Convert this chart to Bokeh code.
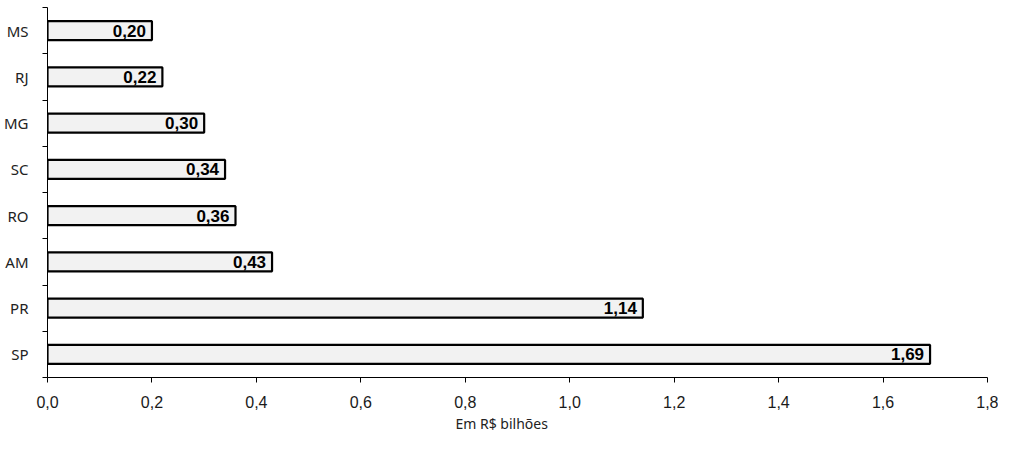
from bokeh.plotting import figure
from bokeh.models import Range1d, FixedTicker, CustomJSTickFormatter, ColumnDataSource, Title
from bokeh.core.properties import value
from bokeh.embed import file_html
from bokeh.resources import INLINE

# Data (top to bottom as shown)
categories = ["MS", "RJ", "MG", "SC", "RO", "AM", "PR", "SP"]
values = [0.20, 0.22, 0.30, 0.34, 0.36, 0.43, 1.14, 1.69]
x_ticks = [0.0, 0.2, 0.4, 0.6, 0.8, 1.0, 1.2, 1.4, 1.6, 1.8]
x_title = "Em R$ bilhões"

n = len(categories)
ypos = [n - 0.5 - i for i in range(n)]
labels = [f"{v:.2f}".replace(".", ",") for v in values]
src = ColumnDataSource(dict(y=ypos, v=values, lab=labels))

p = figure(width=998, height=436, output_backend="svg", toolbar_location=None,
           x_range=Range1d(0, 1.8), y_range=Range1d(0, n),
           min_border_left=42, min_border_right=11, min_border_top=7, min_border_bottom=59)
p.outline_line_color = None
p.xgrid.visible = False
p.ygrid.visible = False

p.hbar(y="y", left=0, right="v", height=0.41, source=src,
       fill_color="#f2f2f2", line_color="black", line_width=2.2)
p.text(x="v", y="y", text="lab", source=src, x_offset=-6,
       text_align="right", text_baseline="middle",
       text_font=value("Liberation Sans"), text_font_style="bold",
       text_font_size="17px", text_color="black")

# x axis
xa = p.xaxis[0]
xa.ticker = FixedTicker(ticks=x_ticks)
xa.formatter = CustomJSTickFormatter(code="return tick.toFixed(1).replace('.', ',');")
xa.major_tick_out = 5
xa.major_tick_in = 0
xa.minor_tick_out = 0
xa.minor_tick_in = 0
xa.axis_line_color = "black"
xa.major_tick_line_color = "black"
xa.major_label_text_font = "Liberation Sans"
xa.major_label_text_font_size = "16px"
xa.major_label_text_color = "#1a1a1a"
xa.major_label_standoff = 13

# y axis
ya = p.yaxis[0]
ya.ticker = FixedTicker(ticks=ypos, minor_ticks=list(range(n + 1)))
ya.formatter = CustomJSTickFormatter(args=dict(cats=categories[::-1]),
                                     code="return cats[Math.floor(tick)];")
ya.major_tick_out = 0
ya.major_tick_in = 0
ya.minor_tick_out = 5
ya.minor_tick_in = 0
ya.minor_tick_line_color = "black"
ya.axis_line_color = "black"
ya.major_label_text_font = "Noto Sans"
ya.major_label_text_font_size = "15px"
ya.major_label_text_color = "#222222"
ya.major_label_standoff = 14

t = Title(text=x_title, align="left", offset=408, standoff=3, text_font="Noto Sans",
          text_font_size="14px", text_font_style="normal", text_color="#222222")
p.add_layout(t, "below")

open("out.html", "w").write(file_html(p, INLINE))
